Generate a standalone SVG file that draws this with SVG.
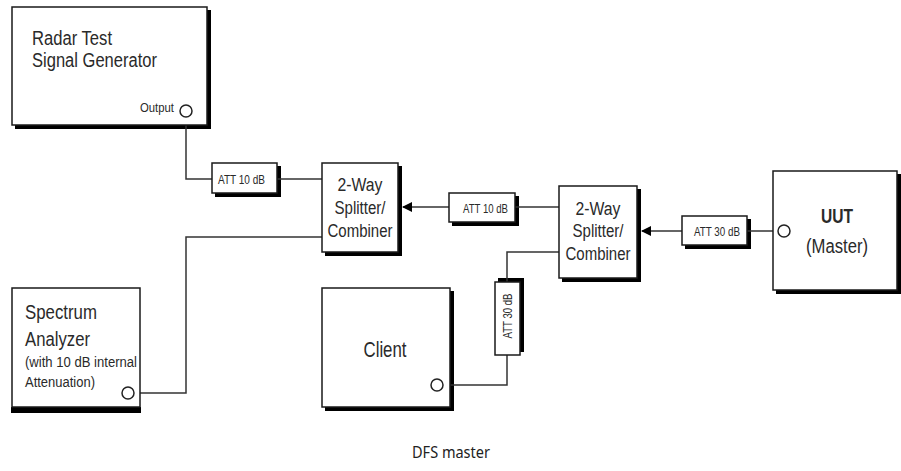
<svg xmlns="http://www.w3.org/2000/svg" width="901" height="471" viewBox="0 0 901 471">
<style>
.box{fill:#fff;stroke:#1a1a1a;stroke-width:1.5}
.t{font-family:"Liberation Sans",Arial,sans-serif;fill:#2a2a2a}
.wire{fill:none;stroke:#333;stroke-width:1.5}
.port{fill:#fff;stroke:#222;stroke-width:1.5}
</style>
<defs>
<marker id="arr" markerWidth="10" markerHeight="10" refX="9" refY="5" orient="auto" markerUnits="userSpaceOnUse">
<path d="M0,0 L10,5 L0,10 Z" fill="#000"/>
</marker>
</defs>
<rect width="901" height="471" fill="#fff"/>

<g id="shadows" fill="#000">
<polygon points="207,10 211,10 211,129 15,129 15,125 207,125"/>
<polygon points="277,166 281,166 281,197 215,197 215,193 277,193"/>
<polygon points="398,166 402,166 402,256 325,256 325,252 398,252"/>
<polygon points="515,196 519,196 519,226 452,226 452,222 515,222"/>
<polygon points="637,189 641,189 641,282 562,282 562,278 637,278"/>
<polygon points="747,219 751,219 751,249 685,249 685,245 747,245"/>
<polygon points="897,174 901,174 901,294 776,294 776,290 897,290"/>
<polygon points="11,407 141,407 141,413 11,413"/>
<polygon points="498,278 524,278 524,352 520,352 520,282 498,282"/>
<polygon points="450,291 454,291 454,411 325,411 325,407 450,407"/>
</g>

<g id="connectors">
<path class="wire" d="M186,117 V179 H212"/>
<path class="wire" d="M277,179 H322"/>
<path class="wire" d="M449,207 H403" marker-end="url(#arr)"/>
<path class="wire" d="M515,207 H559"/>
<path class="wire" d="M682,231 H642" marker-end="url(#arr)"/>
<path class="wire" d="M747,231 H778"/>
<path class="wire" d="M322,237 H186 V393 H134"/>
<path class="wire" d="M559,252 H507 V282"/>
<path class="wire" d="M507,355 V385 H443"/>
</g>

<g id="radar">
<rect class="box" x="12" y="7" width="195" height="118"/>
<text class="t" x="32" y="45" font-size="20" textLength="80" lengthAdjust="spacingAndGlyphs">Radar Test</text>
<text class="t" x="32" y="67" font-size="20" textLength="125" lengthAdjust="spacingAndGlyphs">Signal Generator</text>
<text class="t" x="140" y="112" font-size="13" textLength="34" lengthAdjust="spacingAndGlyphs">Output</text>
<circle class="port" cx="186" cy="111" r="6"/>
</g>

<g id="att1">
<rect class="box" x="212" y="163" width="65" height="30"/>
<text class="t" x="218" y="184" font-size="12" textLength="47" lengthAdjust="spacingAndGlyphs">ATT 10 dB</text>
</g>

<g id="splitter1">
<rect class="box" x="322" y="163" width="76" height="89"/>
<text class="t" x="360" y="191" font-size="18" text-anchor="middle" textLength="45" lengthAdjust="spacingAndGlyphs">2-Way</text>
<text class="t" x="360" y="214" font-size="18" text-anchor="middle" textLength="51" lengthAdjust="spacingAndGlyphs">Splitter/</text>
<text class="t" x="360" y="237" font-size="18" text-anchor="middle" textLength="65" lengthAdjust="spacingAndGlyphs">Combiner</text>
</g>

<g id="att2">
<rect class="box" x="449" y="193" width="66" height="29"/>
<text class="t" x="463" y="213" font-size="12" textLength="45" lengthAdjust="spacingAndGlyphs">ATT 10 dB</text>
</g>

<g id="splitter2">
<rect class="box" x="559" y="186" width="78" height="92"/>
<text class="t" x="598" y="215" font-size="18" text-anchor="middle" textLength="45" lengthAdjust="spacingAndGlyphs">2-Way</text>
<text class="t" x="598" y="237" font-size="18" text-anchor="middle" textLength="51" lengthAdjust="spacingAndGlyphs">Splitter/</text>
<text class="t" x="598" y="260" font-size="18" text-anchor="middle" textLength="65" lengthAdjust="spacingAndGlyphs">Combiner</text>
</g>

<g id="att3">
<rect class="box" x="682" y="216" width="65" height="29"/>
<text class="t" x="694" y="236" font-size="12" textLength="46" lengthAdjust="spacingAndGlyphs">ATT 30 dB</text>
</g>

<g id="uut">
<rect class="box" x="773" y="171" width="124" height="119"/>
<text class="t" x="837" y="223" font-size="21" font-weight="bold" text-anchor="middle" textLength="32" lengthAdjust="spacingAndGlyphs">UUT</text>
<text class="t" x="837" y="253" font-size="20" text-anchor="middle" textLength="62" lengthAdjust="spacingAndGlyphs">(Master)</text>
<circle class="port" cx="784" cy="231" r="6"/>
</g>

<g id="spectrum">
<rect class="box" x="12" y="288" width="128" height="119"/>
<text class="t" x="25" y="319" font-size="20" textLength="72" lengthAdjust="spacingAndGlyphs">Spectrum</text>
<text class="t" x="25" y="346" font-size="20" textLength="65" lengthAdjust="spacingAndGlyphs">Analyzer</text>
<text class="t" x="25" y="367" font-size="14" textLength="112" lengthAdjust="spacingAndGlyphs">(with 10 dB internal</text>
<text class="t" x="25" y="387" font-size="14" textLength="70" lengthAdjust="spacingAndGlyphs">Attenuation)</text>
<circle class="port" cx="128" cy="393" r="6"/>
</g>

<g id="att4">
<rect class="box" x="495" y="282" width="25" height="73"/>
<text class="t" transform="translate(512,316) rotate(-90)" font-size="12" text-anchor="middle" textLength="45" lengthAdjust="spacingAndGlyphs">ATT 30 dB</text>
</g>

<g id="client">
<rect class="box" x="322" y="288" width="128" height="119"/>
<text class="t" x="385" y="357" font-size="22" text-anchor="middle" textLength="43" lengthAdjust="spacingAndGlyphs">Client</text>
<circle class="port" cx="437" cy="385" r="6"/>
</g>

<g id="caption">
<text x="451" y="458" font-family="'Noto Sans','Open Sans',sans-serif" font-size="17" fill="#222" text-anchor="middle" textLength="78" lengthAdjust="spacingAndGlyphs">DFS master</text>
</g>
</svg>
